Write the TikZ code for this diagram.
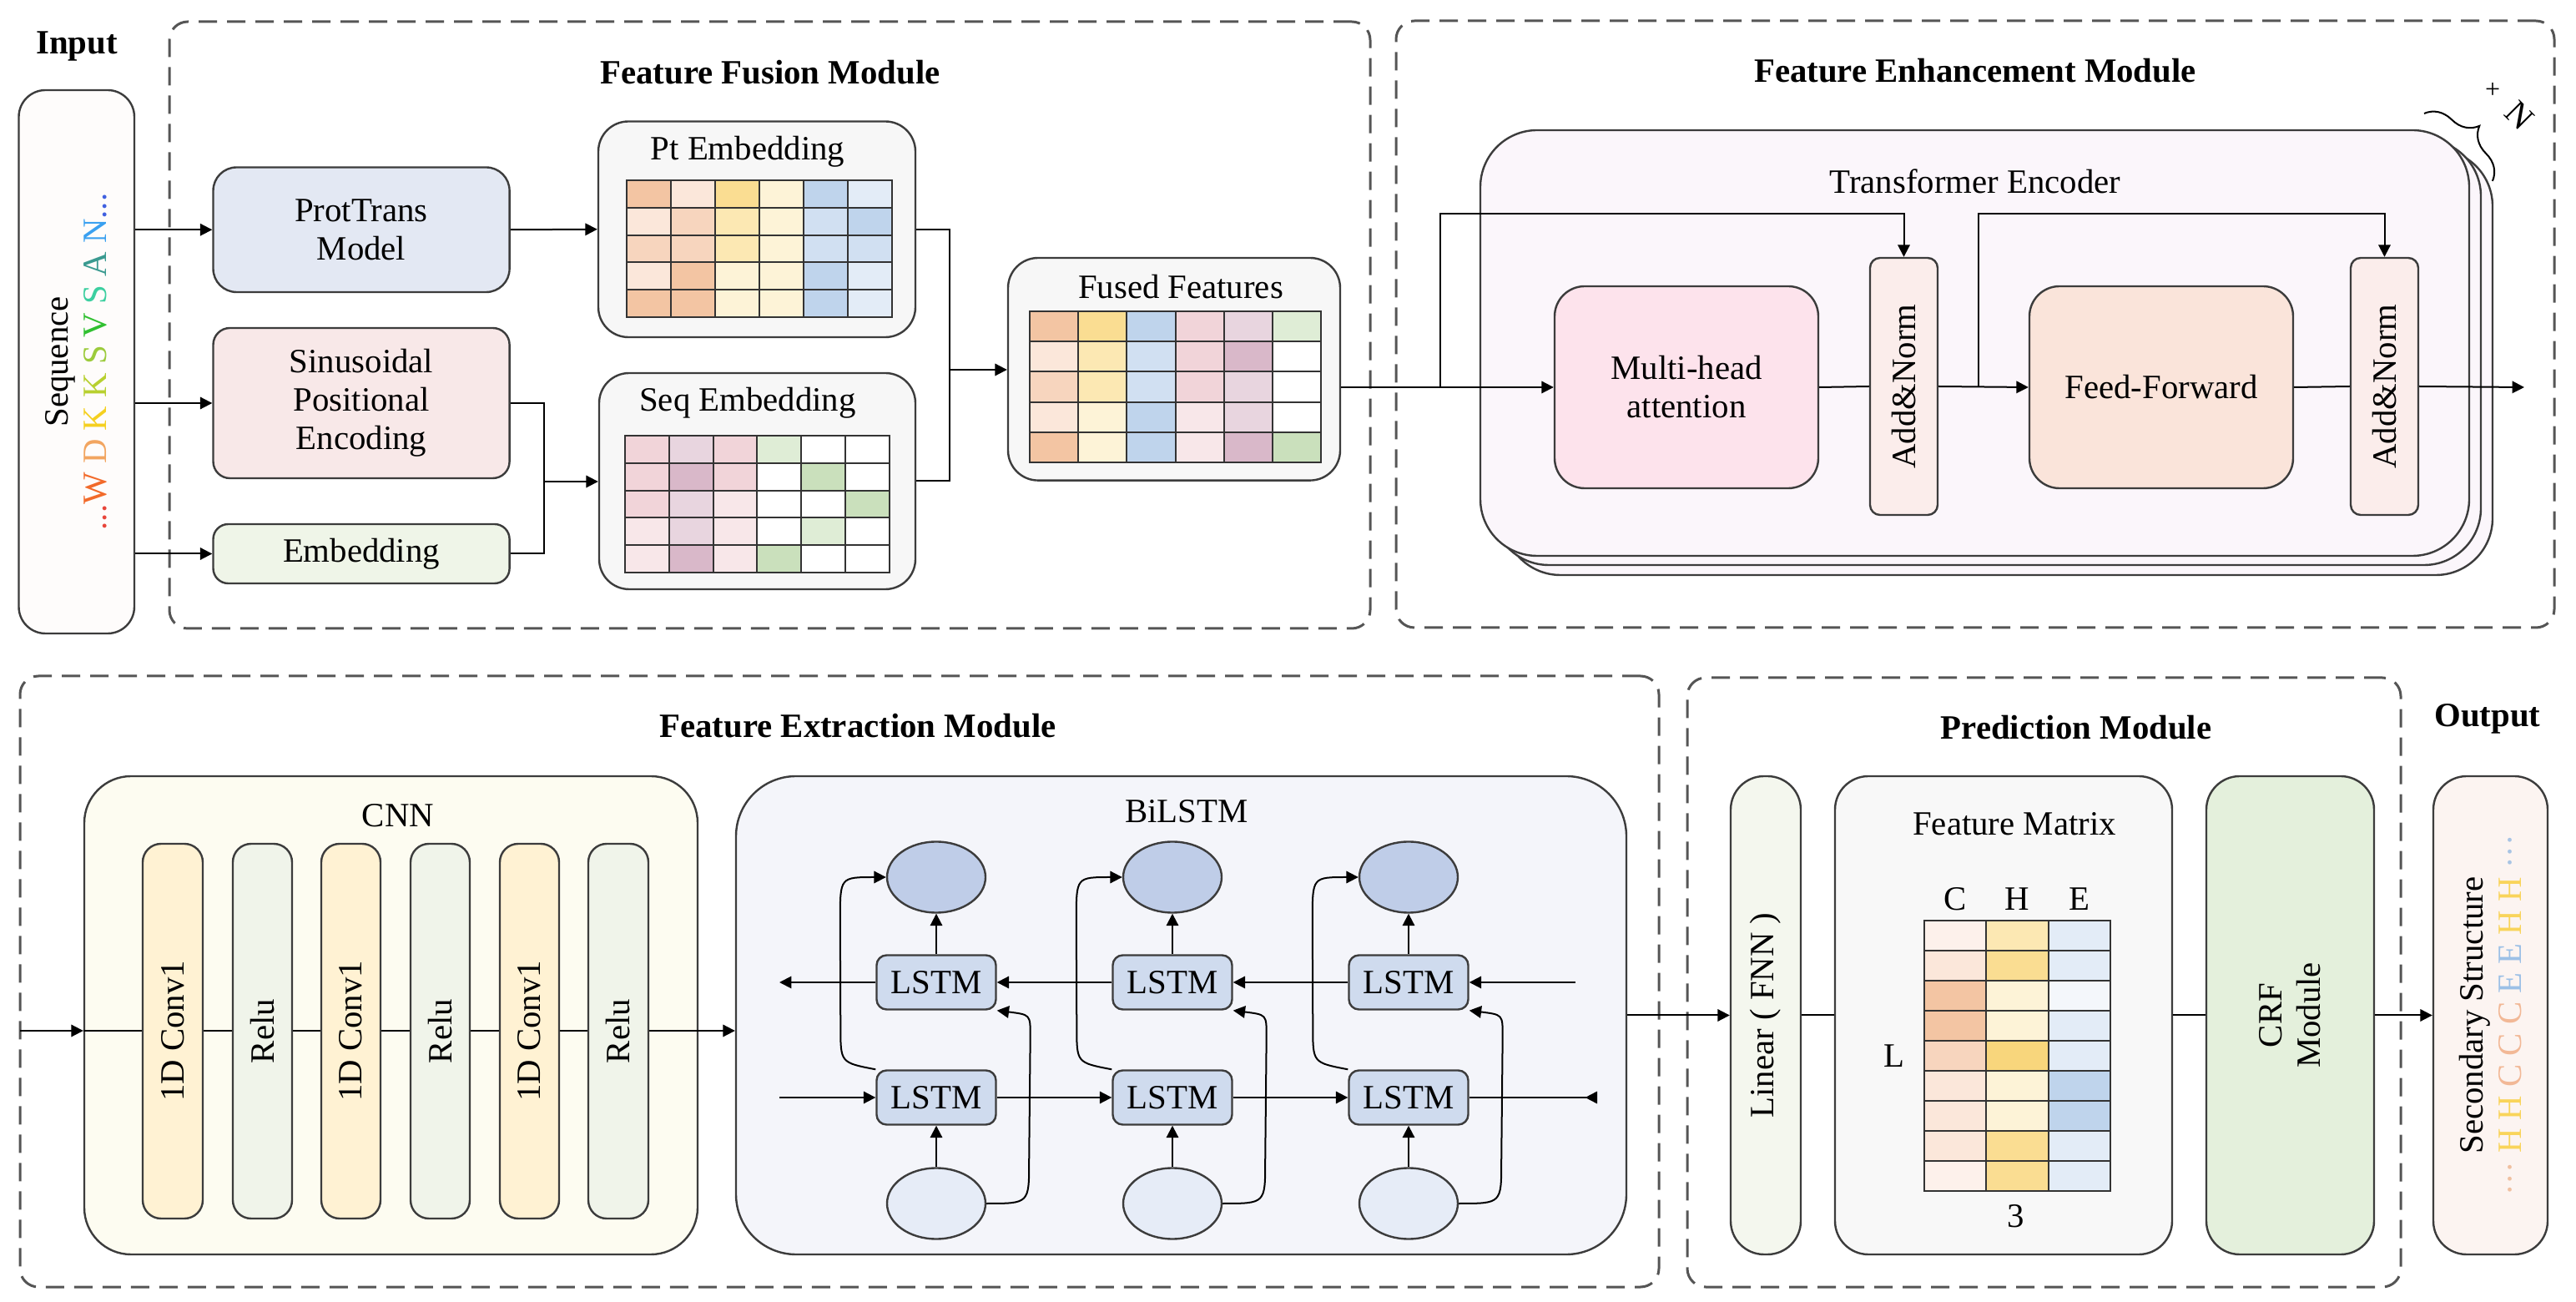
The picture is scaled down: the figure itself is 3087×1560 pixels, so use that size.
\documentclass[tikz,border=0pt]{standalone}
\usepackage{fontspec}
\setmainfont{Liberation Serif}
\usetikzlibrary{arrows.meta,fit,shapes.geometric,decorations.pathreplacing,calc}

\definecolor{lc}{HTML}{3C3C3C}
\definecolor{dc}{HTML}{555555}
\definecolor{O1}{HTML}{FBE7DA}
\definecolor{O2}{HTML}{F7D5BE}
\definecolor{O3}{HTML}{F3C5A3}
\definecolor{Y1}{HTML}{FDF3D7}
\definecolor{Y2}{HTML}{FCE8B3}
\definecolor{Y3}{HTML}{FADD92}
\definecolor{Y4}{HTML}{F8D67C}
\definecolor{B1}{HTML}{E3ECF7}
\definecolor{B2}{HTML}{D1E0F2}
\definecolor{B3}{HTML}{BFD4EC}
\definecolor{P1}{HTML}{F8E7E9}
\definecolor{P2}{HTML}{F1D4D9}
\definecolor{M1}{HTML}{E8D5DF}
\definecolor{M2}{HTML}{D9B8C9}
\definecolor{G1}{HTML}{DFEDD6}
\definecolor{G2}{HTML}{CAE0BC}
\definecolor{W0}{HTML}{FFFFFF}
\definecolor{F1}{HTML}{FDF1EB}
\definecolor{E0}{HTML}{F4F7FB}
\definecolor{seqc}{HTML}{FEFCFB}
\definecolor{ptc}{HTML}{E3E8F3}
\definecolor{sinc}{HTML}{F8E8E8}
\definecolor{embc}{HTML}{EFF5E8}
\definecolor{grc}{HTML}{F7F7F7}
\definecolor{trc}{HTML}{FBF6FB}
\definecolor{mhac}{HTML}{FDE3EC}
\definecolor{anc}{HTML}{FBEDEB}
\definecolor{ffc}{HTML}{FAE4DA}
\definecolor{cnnc}{HTML}{FDFCF1}
\definecolor{convc}{HTML}{FFF2D3}
\definecolor{reluc}{HTML}{F0F4EA}
\definecolor{bilc}{HTML}{F4F5FA}
\definecolor{etop}{HTML}{BFCDE8}
\definecolor{ebot}{HTML}{E6ECF7}
\definecolor{lstmc}{HTML}{CFDBEE}
\definecolor{linc}{HTML}{F4F7EE}
\definecolor{fmc}{HTML}{F8F8F8}
\definecolor{crfc}{HTML}{E4F0DC}
\definecolor{outc}{HTML}{FCF4F1}

\newcommand\mygrid[5]{%
  \foreach \gl [count=\gr from 0] in {#5} {%
    \foreach \gc [count=\gi from 0] in \gl {%
      \filldraw[fill=\gc, draw=black!80, line width=0.5pt] ({#1+\gi*#3},{#2+\gr*#4}) rectangle ++(#3,#4);
    }%
  }%
}

\begin{document}
\begin{tikzpicture}[x=0.25pt,y=-0.25pt,
  lbl/.style={font=\fontsize{10.2pt}{11.5pt}\selectfont, align=center, inner sep=0pt},
  ttl/.style={font=\bfseries\fontsize{10.2pt}{12pt}\selectfont, inner sep=0pt},
  bx/.style={draw=lc, line width=0.6pt, inner sep=0pt, rounded corners=#1},
  bx/.default=6pt,
  modbox/.style={draw=dc, line width=0.75pt, dash pattern=on 5.5pt off 3pt, rounded corners=5.5pt, inner sep=0pt},
  arr/.style={line width=0.5pt, -{Triangle[length=3.6pt,width=3.6pt]}},
  ln/.style={line width=0.5pt},
  ell/.style={ellipse, draw=lc, line width=0.6pt, minimum width=29.5pt, minimum height=21.25pt, inner sep=0pt},
  lstm/.style={draw=lc, line width=0.6pt, fill=lstmc, rounded corners=3pt, minimum width=35.75pt, minimum height=16.25pt, inner sep=0pt, lbl}
]
\fill[white] (0,0) rectangle (3087,1560);
\useasboundingbox (0,0) rectangle (3087,1560);

% ---------------- titles
\node[ttl] (tin) at (92,55) {Input};
\node[ttl] (tff) at (923,87) {Feature Fusion Module};
\node[ttl] (tfe) at (2367,85) {Feature Enhancement Module};
\node[ttl] (tfx) at (1028,870) {Feature Extraction Module};
\node[ttl] (tpm) at (2488,872) {Prediction Module};
\node[ttl] (tout) at (2981,861) {Output};

% ---------------- module frames
\node[modbox, fit={(203,26) (1642,753)}] (ffm) {};
\node[modbox, fit={(1673,25) (3061,752)}] (fem) {};
\node[modbox, fit={(24,810) (1988,1542)}] (fxm) {};
\node[modbox, fit={(2022,812) (2877,1542)}] (pdm) {};

% ---------------- input
\node[bx=8pt, fill=seqc, fit={(22.5,108) (161,759)}] (seq) {};
\node[lbl, rotate=90] (seqt) at (seq) {Sequence\\
\textcolor[HTML]{E8453A}{...}\textcolor[HTML]{F26A2A}{W} \textcolor[HTML]{F2A560}{D} \textcolor[HTML]{F5D020}{K} \textcolor[HTML]{B8D030}{K} \textcolor[HTML]{9CCB3C}{S} \textcolor[HTML]{30C030}{V} \textcolor[HTML]{3CCFA0}{S} \textcolor[HTML]{3A9A90}{A} \textcolor[HTML]{3AA0F0}{N}\textcolor[HTML]{4060E0}{...}};

% ---------------- feature fusion
\node[bx=7pt, fill=ptc, fit={(255.5,200.5) (610.6,350)}] (pt) {};
\node[lbl] (ptt) at (pt) {ProtTrans\\Model};
\node[bx=5pt, fill=sinc, fit={(255.5,393) (610.6,573)}] (sin) {};
\node[lbl] (sint) at (sin) {Sinusoidal\\Positional\\Encoding};
\node[bx=4.5pt, fill=embc, fit={(255.5,628) (610.6,699)}] (emb) {};
\node[lbl] (embt) at (emb) {Embedding};

\node[bx=9pt, fill=grc, fit={(717,145.5) (1097,404)}] (pte) {};
\node[lbl] (ptet) at (896,182) {Pt Embedding};
\mygrid{751}{216}{53}{32.8}{{O3,O1,Y3,Y1,B3,B1},{O1,O2,Y2,Y1,B2,B3},{O2,O2,Y2,Y1,B2,B2},{O1,O3,Y1,Y1,B3,B1},{O3,O3,Y1,Y1,B3,B1}}

\node[bx=9pt, fill=grc, fit={(718,447) (1097,706)}] (seqe) {};
\node[lbl] (seqet) at (896,483) {Seq Embedding};
\mygrid{749}{522}{52.8}{32.8}{{P2,M1,P2,G1,W0,W0},{P2,M2,P2,W0,G2,W0},{P2,M1,P1,W0,W0,G2},{P1,M1,P1,W0,G1,W0},{P1,M2,P1,G2,W0,W0}}

\node[bx=9pt, fill=grc, fit={(1208,309) (1606,575.6)}] (fused) {};
\node[lbl] (fusedt) at (1415,344) {Fused Features};
\mygrid{1234}{373}{58.2}{36.2}{{O3,Y3,B3,P2,M1,G1},{O1,Y2,B2,P2,M2,W0},{O2,Y2,B2,P2,M1,W0},{O1,Y1,B3,P1,M1,W0},{O3,Y1,B3,P1,M2,G2}}

\draw[arr] (seq.east |- pt.west) -- (pt.west);
\draw[arr] (seq.east |- sin.west) -- (sin.west);
\draw[arr] (seq.east |- emb.west) -- (emb.west);
\draw[arr] (pt.east) -- (pte.west);
\coordinate (j1) at (652,577);
\draw[ln] (sin.east) -| (j1) |- (emb.east);
\draw[arr] (j1) -- (seqe.west |- j1);
\coordinate (j2) at (1138,443);
\draw[ln] (pte.east) -| (j2) |- (seqe.east);
\draw[arr] (j2) -- (fused.west |- j2);

% ---------------- feature enhancement
\node[bx=17pt, fill=trc, fit={(1802,179) (2987,689)}] (trb2) {};
\node[bx=17pt, fill=trc, fit={(1788,167) (2973,677)}] (trb1) {};
\node[bx=17pt, fill=trc, fit={(1774,156) (2959,666)}] (tr) {};
\node[lbl] (trt) at (2367,217) {Transformer Encoder};
\draw[decorate, decoration={brace, amplitude=9pt}, line width=0.5pt] (2905,136) -- (2987,217);
\node[lbl, font=\fontsize{8pt}{8pt}\selectfont] (plus) at (2987,108) {+};
\node[lbl, rotate=-45] (nn) at (3019,138) {N};

\node[bx=9pt, fill=mhac, fit={(1863,343) (2179,585)}] (mha) {};
\node[lbl] (mhat) at (mha) {Multi-head\\attention};
\node[bx=3pt, fill=anc, fit={(2241,309) (2322,617)}] (an1) {};
\node[lbl, rotate=90] (an1t) at (an1) {Add\&Norm};
\node[bx=9pt, fill=ffc, fit={(2432,343) (2748,585)}] (ffw) {};
\node[lbl] (ffwt) at (ffw) {Feed-Forward};
\node[bx=3pt, fill=anc, fit={(2817,309) (2898,617)}] (an2) {};
\node[lbl, rotate=90] (an2t) at (an2) {Add\&Norm};

\coordinate (b1) at (1726,464);
\coordinate (b2) at (2371,464);
\coordinate (eo) at (3025,464);
\draw[arr] (fused.east |- b1) -- (mha.west);
\draw[arr] (b1) |- ($(an1.north)+(0,-52)$) -- (an1.north);
\draw[ln] (mha.east) -- (an1.west);
\draw[arr] (an1.east) -- (ffw.west);
\draw[arr] (b2) |- ($(an2.north)+(0,-52)$) -- (an2.north);
\draw[ln] (ffw.east) -- (an2.west);
\draw[arr] (an2.east) -- (eo);

% ---------------- feature extraction: CNN
\node[bx=14pt, fill=cnnc, fit={(101,930) (836,1503)}] (cnn) {};
\node[lbl] (cnnt) at (477,977) {CNN};
\coordinate (cl) at (24,1235);
\draw[arr] (cl) -- (cnn.west |- cl);
\draw[ln] (cnn.west |- cl) -- (cnn.east |- cl);
\foreach \n/\xa/\xb/\fc/\tx in {1/171/243/convc/1D Conv1, 2/279/350/reluc/Relu, 3/385/456/convc/1D Conv1, 4/492/563/reluc/Relu, 5/599/670/convc/1D Conv1, 6/705/777/reluc/Relu} {
  \node[bx=5.5pt, fill=\fc, fit={(\xa,1011) (\xb,1460)}] (bar\n) {};
  \node[lbl, rotate=90] (bart\n) at (bar\n) {\tx};
}

% ---------------- BiLSTM
\node[bx=18pt, fill=bilc, fit={(882,930) (1949,1503)}] (bil) {};
\node[lbl] (bilt) at (1422,972) {BiLSTM};
\draw[arr] (cnn.east |- cl) -- (bil.west |- cl);
\foreach \k/\xx in {1/1122,2/1405,3/1688} {
  \node[ell, fill=etop] (top\k) at (\xx,1051) {};
  \node[ell, fill=ebot] (bot\k) at (\xx,1442) {};
  \node[lstm] (up\k) at (\xx,1177) {LSTM};
  \node[lstm] (lo\k) at (\xx,1315) {LSTM};
}
\foreach \k in {1,2,3} {
  \draw[arr] (up\k.north) -- (top\k.south);
  \draw[arr] (bot\k.north) -- (lo\k.south);
  \draw[arr] (lo\k.north west) .. controls ($(lo\k.north west)+(-42,-8)$) .. ($(lo\k.north west)+(-42,-50)$) -- ($(top\k.west)+(-55,50)$) .. controls ($(top\k.west)+(-55,0)$) .. (top\k.west);
  \draw[arr] (bot\k.east) .. controls ($(bot\k.east)+(51,0)$) .. ($(bot\k.east)+(51,-50)$) -- ($(up\k.south east)+(40,30)$) .. controls ($(up\k.south east)+(40,5)$) .. (up\k.south east);
}
\coordinate (uR) at (1888,1177);
\coordinate (uL) at (934,1177);
\coordinate (lL) at (934,1315);
\coordinate (lR) at (1914,1315);
\draw[arr] (uR) -- (up3.east);
\draw[arr] (up3.west) -- (up2.east);
\draw[arr] (up2.west) -- (up1.east);
\draw[arr] (up1.west) -- (uL);
\draw[arr] (lL) -- (lo1.west);
\draw[arr] (lo1.east) -- (lo2.west);
\draw[arr] (lo2.east) -- (lo3.west);
\draw[ln, -{Triangle[length=3.6pt,width=3.6pt,reversed]}] (lo3.east) -- (lR);

% ---------------- prediction
\node[bx=10pt, fill=linc, fit={(2074,930) (2158,1503)}] (lin) {};
\node[lbl, rotate=90] (lint) at (lin) {Linear ( FNN )};
\node[bx=10pt, fill=fmc, fit={(2199,930) (2603,1503)}] (fm) {};
\node[lbl] (fmt) at (2414,987) {Feature Matrix};
\node[lbl] (lc1) at (2343,1077) {C};
\node[lbl] (lc2) at (2417,1077) {H};
\node[lbl] (lc3) at (2492,1077) {E};
\node[lbl] (ll) at (2270,1265) {L};
\node[lbl] (l3) at (2416,1457) {3};
\mygrid{2306}{1103}{74.3}{36}{{F1,Y2,B1},{O1,Y3,B1},{O3,Y1,E0},{O3,Y1,B1},{O2,Y4,B1},{O1,Y1,B3},{O1,Y1,B3},{O1,Y3,B1},{F1,Y3,B1}}
\node[bx=10pt, fill=crfc, fit={(2644,930) (2845,1503)}] (crf) {};
\node[lbl, rotate=90] (crft) at (crf) {CRF\\Module};
\node[bx=10pt, fill=outc, fit={(2916,930) (3053,1503)}] (outb) {};
\node[lbl, rotate=90] (outt) at (outb) {Secondary Structure\\
\textcolor[HTML]{F0C0A0}{···} \textcolor[HTML]{F9D45A}{H} \textcolor[HTML]{F9D45A}{H} \textcolor[HTML]{F2B896}{C} \textcolor[HTML]{F2B896}{C} \textcolor[HTML]{F2B896}{C} \textcolor[HTML]{9CC0E6}{E} \textcolor[HTML]{9CC0E6}{E} \textcolor[HTML]{F9D45A}{H} \textcolor[HTML]{F9D45A}{H} \textcolor[HTML]{A8C4E4}{···}};

\draw[arr] (bil.east) -- (lin.west);
\draw[ln] (lin.east) -- (fm.west);
\draw[ln] (fm.east) -- (crf.west);
\draw[arr] (crf.east) -- (outb.west);
\end{tikzpicture}
\end{document}
